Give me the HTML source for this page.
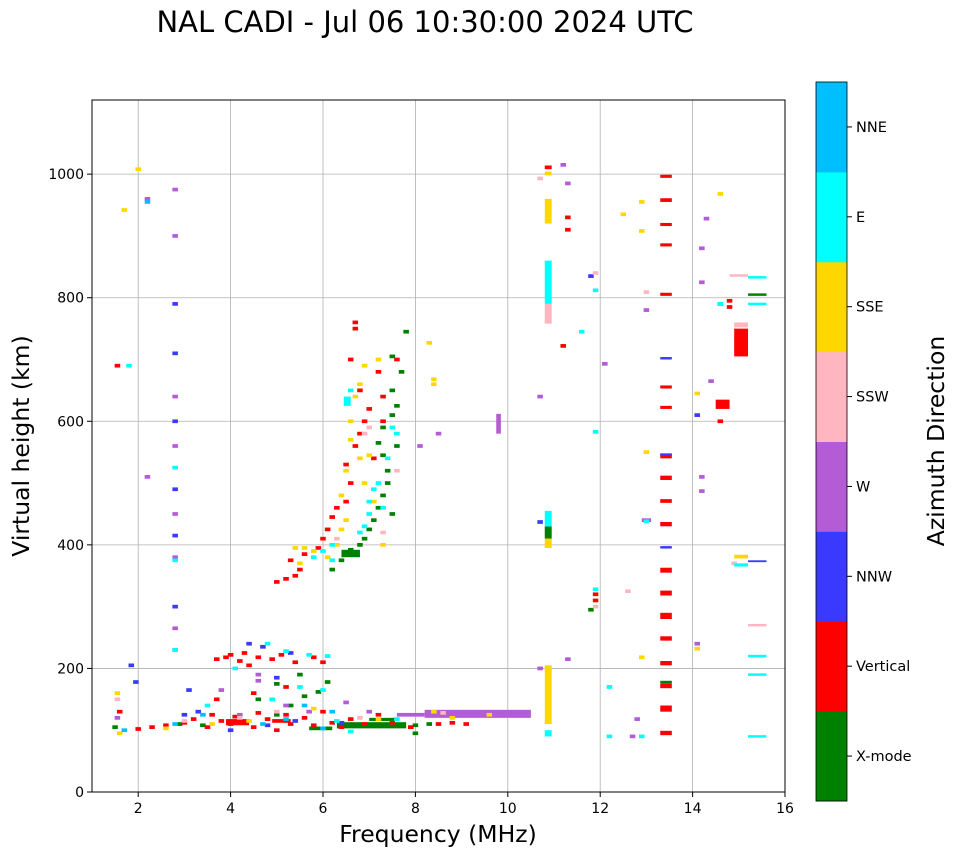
<!DOCTYPE html>
<html><head><meta charset="utf-8"><style>
body{margin:0;background:#fff;font-family:"DejaVu Sans",sans-serif}
</style></head><body>
<svg id="chart" width="958" height="857" xmlns="http://www.w3.org/2000/svg" font-family="DejaVu Sans, Liberation Sans, sans-serif">
<text x="425" y="32" font-size="29" text-anchor="middle">NAL CADI - Jul 06 10:30:00 2024 UTC</text>
<g id="grid"></g>
<g id="marks"></g>
<rect x="92" y="100" width="693" height="692" fill="none" stroke="#000" stroke-width="1"/>
<g id="axes"></g>
<text x="438" y="842" font-size="23.5" text-anchor="middle">Frequency (MHz)</text>
<text transform="translate(29,446) rotate(-90)" font-size="23.5" text-anchor="middle">Virtual height (km)</text>
<g id="colorbar"></g>
<text transform="translate(944,441) rotate(-90)" font-size="23.5" text-anchor="middle">Azimuth Direction</text>
</svg>
<script>
const xTicks=[2,4,6,8,10,12,14,16];
const yTicks=[0,200,400,600,800,1000];
const directions=["X-mode","Vertical","NNW","W","SSW","SSE","E","NNE"];
const dirColors=["#008000","#ff0000","#3a3aff","#b45bd6","#ffb6c1","#ffd700","#00ffff","#00bfff"];
// entries: [f,h] small mark or [f0,f1,h0,h1] block
const xmode=[[6.2,360],[6.4,375],[6.6,385],[6.8,400],[6.9,410],[7.0,425],[7.1,440],[7.2,460],[7.3,480],[7.4,500],[7.4,520],[7.3,545],[7.2,565],[7.3,590],[7.5,610],[7.6,625],[7.5,650],[7.7,680],[7.5,705],[7.8,745],[7.6,560],[7.5,450],[6.6,392],[6.4,6.8,380,392],[6.3,7.8,103,113],[8.0,108],[8.3,110],[8.0,95],[2.9,110],[3.4,108],[4.6,150],[5.0,125],[5.3,140],[5.6,155],[5.9,162],[6.1,178],[5.0,175],[5.5,190],[1.5,105],[10.8,10.95,410,430],[11.8,295],[15.2,15.6,803,807],[13.3,13.55,176,180],[7.0,7.6,115,120],[5.7,6.2,100,106]];
const vertical=[[13.3,13.55,92,99],[13.3,13.55,130,140],[13.3,13.55,168,176],[13.3,13.55,205,212],[13.3,13.55,245,252],[13.3,13.55,280,290],[13.3,13.55,318,326],[13.3,13.55,355,363],[13.3,13.55,430,437],[13.3,13.55,468,474],[13.3,13.55,505,512],[13.3,13.55,540,548],[13.3,13.55,620,625],[13.3,13.55,653,658],[13.3,13.55,803,808],[13.3,13.55,883,888],[13.3,13.55,916,921],[13.3,13.55,955,961],[13.3,13.55,994,999],[14.9,15.2,705,750],[14.5,14.8,620,635],[14.6,600],[14.8,785],[14.8,795],[11.3,930],[11.3,910],[11.2,722],[11.9,310],[11.9,320],[1.55,690],[10.8,10.95,1008,1014],
[5.0,340],[5.2,345],[5.4,350],[5.5,360],[5.3,375],[5.6,385],[5.9,395],[6.0,410],[6.1,425],[6.2,445],[6.3,460],[6.5,470],[6.6,500],[6.5,530],[6.7,560],[6.8,580],[6.9,600],[7.0,620],[7.3,640],[6.8,650],[7.2,680],[6.6,700],[6.7,760],[6.7,750],[7.6,700],[7.3,600],[7.1,540],
[2.3,105],[2.6,108],[3.0,112],[3.2,118],[3.5,105],[3.6,125],[3.8,115],[4.0,110],[4.1,122],[4.3,112],[4.5,105],[4.6,128],[4.8,118],[5.0,100],[5.2,125],[5.3,110],[5.6,120],[5.8,108],[6.0,130],[6.2,112],[6.4,105],[6.6,118],[6.9,110],[7.2,125],[7.5,112],[7.9,105],[8.5,110],[8.8,112],[9.1,110],[3.7,150],[4.5,160],[5.2,170],[2.0,102],[1.6,130],[3.9,4.4,108,118],[4.9,5.3,112,118],
[3.7,215],[3.9,218],[4.0,222],[4.2,212],[4.3,225],[4.6,218],[4.9,215],[5.1,222],[5.4,210],[5.8,218],[6.0,210],[4.4,205]];
const nnw=[[2.8,300],[2.8,415],[2.8,490],[2.8,710],[2.8,790],[2.8,600],[1.85,205],[1.95,178],[4.4,240],[4.7,235],[5.3,225],[5.0,185],[3.3,130],[3.1,165],[4.0,100],[6.4,112],[5.4,115],[10.7,437],[13.3,13.55,700,704],[14.1,610],[13.3,13.55,544,548],[13.3,13.55,394,398],[15.2,15.6,372,375],[14.6,790],[11.8,835],[4.8,108],[3.0,125]];
const west=[[8.2,10.5,120,133],[9.75,9.85,580,612],[2.8,975],[2.8,900],[2.8,380],[2.8,265],[2.8,230],[2.8,560],[2.8,640],[2.8,450],[2.2,960],[2.2,510],[10.7,640],[11.3,215],[12.1,693],[13.0,780],[12.8,118],[12.9,13.1,437,443],[12.7,90],[14.3,928],[14.2,880],[14.2,825],[14.4,665],[14.2,510],[14.2,487],[14.1,240],[8.5,580],[8.1,560],[11.2,1015],[11.3,985],[10.7,200],[4.2,125],[4.6,180],[5.2,140],[3.8,165],[6.5,145],[7.0,130],[1.55,120],[7.6,8.2,122,128],[4.6,190],[5.7,130]];
const ssw=[[10.8,10.95,758,790],[11.9,840],[14.9,15.2,752,760],[14.8,15.2,834,838],[12.6,325],[15.2,15.6,268,272],[13.0,809],[10.7,993],[11.9,300],[14.9,370],[7.6,520],[7.0,590],[6.9,580],[7.3,420],[6.3,410],[1.55,150],[8.6,128],[5.0,130],[4.2,120],[3.0,115],[6.8,120]];
const sse=[[10.8,10.95,110,205],[10.8,10.95,395,410],[10.8,10.95,920,960],[10.8,10.95,998,1004],[12.5,935],[12.9,955],[12.9,908],[13.0,550],[12.9,218],[14.1,645],[14.1,232],[14.6,968],[14.9,15.2,378,384],[8.3,727],[8.4,668],[8.4,660],[2.0,1008],[1.7,942],[1.55,160],[1.6,95],
[5.4,395],[5.6,395],[5.8,390],[6.1,380],[6.3,400],[6.4,425],[6.5,440],[6.4,480],[6.5,520],[6.6,570],[6.6,600],[6.7,640],[6.8,660],[6.9,690],[7.2,700],[7.0,545],[6.9,500],[7.1,470],[7.3,400],[6.8,540],[5.5,370],[8.4,130],[8.8,120],[9.6,125],[4.4,115],[3.6,110],[2.6,103],[5.8,135],[7.2,118]];
const east=[[10.8,10.95,790,860],[10.8,10.95,90,100],[10.8,10.95,430,455],[15.2,15.6,831,835],[15.2,15.6,788,792],[15.2,15.6,218,222],[15.2,15.6,188,192],[15.2,15.6,88,92],[12.9,90],[12.2,90],[12.2,170],[11.9,328],[11.9,583],[11.9,812],[11.6,745],[14.6,790],[13.0,438],[14.9,15.2,365,370],[2.8,375],[2.8,525],[1.8,690],[4.8,240],[5.2,228],[5.7,222],[6.1,220],[4.1,200],[5.5,170],[6.0,165],[4.9,150],[2.8,230],[3.5,140],[6.6,98],[6.3,115],[7.6,118],
[6.0,390],[5.8,380],[6.2,400],[6.45,6.6,625,640],[6.6,650],[7.0,470],[7.1,490],[7.2,500],[6.9,430],[6.8,420],[7.3,460],[7.5,590],[7.6,580],[6.2,375],[7.4,540],[7.0,450]];
const nne=[[2.2,955],[5.2,118],[3.4,125],[4.7,110],[6.0,103],[1.7,100],[2.8,110],[5.6,140],[6.2,130]];
const seriesList=[xmode,vertical,nnw,west,ssw,sse,east,nne];

const NS="http://www.w3.org/2000/svg";
const X0=92,X1=785,Y0=792,Y1=100,FMIN=1,FMAX=16,HMIN=0,HMAX=1120;
function xs(f){return X0+(f-FMIN)/(FMAX-FMIN)*(X1-X0);}
function ys(h){return Y0-(h-HMIN)/(HMAX-HMIN)*(Y0-Y1);}
function mk(tag,attrs,parent){const e=document.createElementNS(NS,tag);for(const k in attrs)e.setAttribute(k,attrs[k]);parent.appendChild(e);return e;}
const grid=document.getElementById('grid'),axes=document.getElementById('axes'),marks=document.getElementById('marks'),cb=document.getElementById('colorbar');
xTicks.forEach(t=>{const x=xs(t);
 const g=mk('line',{x1:x,x2:x,y1:Y1,y2:Y0,stroke:'#b0b0b0','stroke-width':0.8},grid);
 
 
 const tk=mk('line',{x1:x,x2:x,y1:Y0,y2:Y0+5,stroke:'#000'},axes);
 
 
 const tx=mk('text',{x:x,y:Y0+21,'font-size':14,'text-anchor':'middle'},axes);tx.textContent=t;
 
 });
yTicks.forEach(t=>{const y=ys(t);
 const g=mk('line',{x1:X0,x2:X1,y1:y,y2:y,stroke:'#b0b0b0','stroke-width':0.8},grid);
 
 
 const tk=mk('line',{x1:X0-5,x2:X0,y1:y,y2:y,stroke:'#000'},axes);
 
 
 const tx=mk('text',{x:X0-8,y:y+5,'font-size':14,'text-anchor':'end'},axes);tx.textContent=t;
 
 });
seriesList.forEach((s,i)=>{s.forEach(p=>{let f0,f1,h0,h1;
 if(p.length===2){f0=p[0]-0.06;f1=p[0]+0.06;h0=p[1]-3;h1=p[1]+3;}else{[f0,f1,h0,h1]=p;}
 const r=mk('rect',{x:xs(f0),y:ys(h1),width:xs(f1)-xs(f0),height:ys(h0)-ys(h1),fill:dirColors[i]},marks);
 
 });});
const CBX=816,CBW=31,CBT=82,CBB=801,segH=(CBB-CBT)/directions.length;
directions.forEach((d,i)=>{const y=CBB-(i+1)*segH;
 const r=mk('rect',{x:CBX,y:y,width:CBW,height:segH+0.5,fill:dirColors[i]},cb);
 
 
 const tk=mk('line',{x1:CBX+CBW,x2:CBX+CBW+5,y1:y+segH/2,y2:y+segH/2,stroke:'#000'},cb);
 
 
 const tx=mk('text',{x:CBX+CBW+9,y:y+segH/2+5,'font-size':14.5},cb);tx.textContent=d;
 
 });
const fr=mk('rect',{x:CBX,y:CBT,width:CBW,height:CBB-CBT,fill:'none',stroke:'#000','stroke-width':0.8},cb);


</script>
</body></html>
